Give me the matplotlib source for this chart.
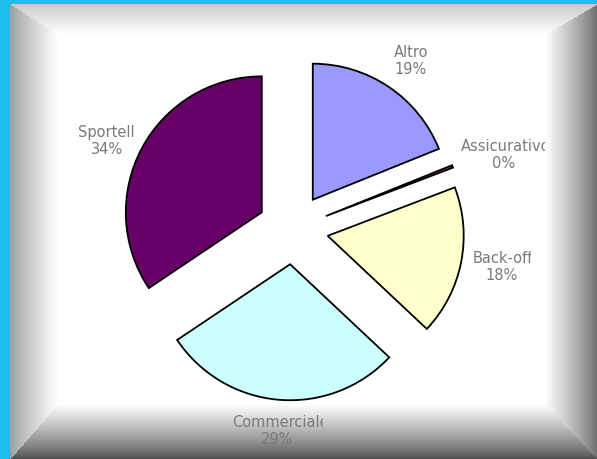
import numpy as np
import matplotlib
matplotlib.use("Agg")
import matplotlib.pyplot as plt
from matplotlib.transforms import Bbox, TransformedBbox

# ---- data ----
categories = ["Altro", "Assicurativo", "Back-office", "Commerciale", "Sportello"]
values = [18.9, 0.3, 17.8, 28.6, 34.4]
colors = ["#9999FF", "#993366", "#FFFFCC", "#CCFFFF", "#660066"]

W, H = 597, 459
fig = plt.figure(figsize=(W / 100, H / 100), dpi=100)
ax = fig.add_axes([0, 0, 1, 1])

# ---- background: blue with bevelled white frame ----
yy, xx = np.mgrid[0:H, 0:W].astype(float)
img = np.zeros((H, W, 3))
blue = np.array([0x1C, 0xBD, 0xEB]) / 255.0
img[:] = blue
fx0, fy0, fx1, fy1 = 10, 4, W, H
inside = (xx >= fx0) & (yy >= fy0)
dl = (xx - fx0) / 48.0
dt = (yy - fy0) / 30.0
dr = (fx1 - xx) / 52.0
db = (fy1 - yy) / 55.0
d = np.stack([dl, dt, dr, db])
side = np.argmin(d, axis=0)
tmin = np.min(d, axis=0)
outer = np.array([[0.62, 0.62, 0.62],
                  [0.78, 0.78, 0.78],
                  [0.42, 0.42, 0.42],
                  [0.30, 0.30, 0.30]])
t = np.clip(tmin, 0, 1) ** 0.85
oc = outer[side]
face = oc * (1 - t[..., None]) + np.ones(3) * t[..., None]
img[inside] = face[inside]
ax.imshow(img, extent=(0, W, 0, H), origin="upper", zorder=0, interpolation="bilinear")

# ---- pie ----
cx, cy, r = 293, H - 229, 136
expl = 0.26
wedges, _ = ax.pie(values, colors=colors, startangle=90, counterclock=False,
                   center=(cx, cy), radius=r, explode=[expl * r] * len(values),
                   wedgeprops=dict(edgecolor="black", linewidth=1.3),
                   frame=True)
for w in wedges:
    w.set_zorder(2)

# ---- labels ----
label_dist = 1.25
nudges = [(3, -2), (19, -1), (7.5, 2), (1, 3), (-5, -9)]
box_w = [None, 84, 58, 91, 57]
txt_color = "#7a7a7a"
fs = 10.5
for w, name, v, (nx, ny), bw in zip(wedges, categories, values, nudges, box_w):
    ang = np.deg2rad((w.theta1 + w.theta2) / 2)
    dist = (expl + label_dist) * r
    lx = cx + dist * np.cos(ang) + nx
    ly = cy + dist * np.sin(ang) + ny
    pct = f"{v:.0f}%"
    ax.text(lx, ly - 8.5, pct, ha="center", va="center", fontsize=fs,
            color=txt_color, zorder=3)
    if bw is None:
        ax.text(lx, ly + 8.5, name, ha="center", va="center", fontsize=fs,
                color=txt_color, zorder=3)
    else:
        t_ = ax.text(lx - bw / 2, ly + 8.5, name, ha="left", va="center",
                     fontsize=fs, color=txt_color, zorder=3, clip_on=True)
        bb = Bbox.from_extents(lx - bw / 2 - 1, ly - 4, lx + bw / 2, ly + 22)
        t_.set_clip_box(TransformedBbox(bb, ax.transData))
        t_.set_clip_path(None)

ax.set_xlim(0, W)
ax.set_ylim(0, H)
ax.set_aspect("auto")
ax.axis("off")
fig.savefig("out.png", dpi=100)
